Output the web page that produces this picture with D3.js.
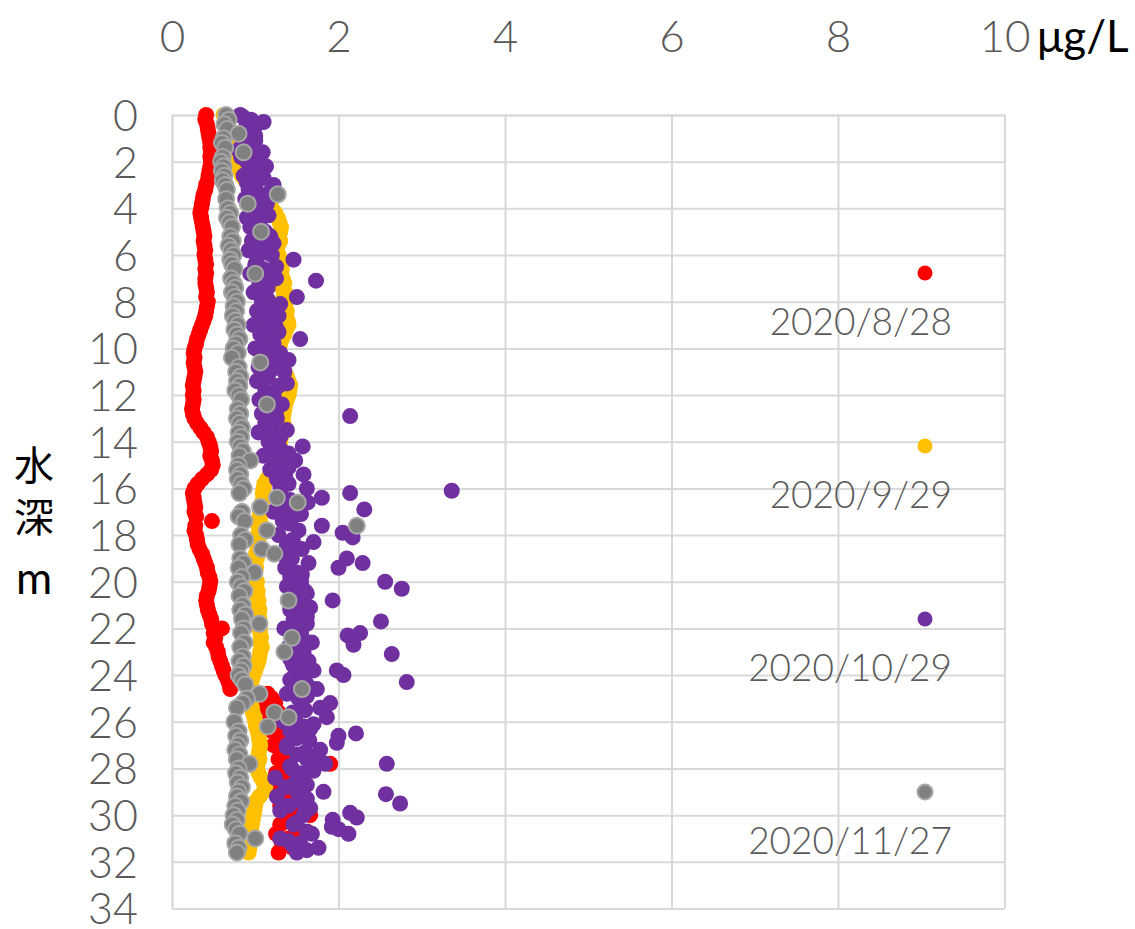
<!DOCTYPE html>
<html><head><meta charset="utf-8">
<script src="https://cdn.jsdelivr.net/npm/d3@7"></script>
<style>
html,body{margin:0;padding:0;background:#fff;}
svg{display:block;}
</style></head>
<body>
<svg id="chart" width="1135" height="929"></svg>
<script>
// ---- data ----
const seriesNames = ["2020/8/28","2020/9/29","2020/10/29","2020/11/27"];
const xTicks = [0,2,4,6,8,10];
const yTicks = [0,2,4,6,8,10,12,14,16,18,20,22,24,26,28,30,32,34];
const xUnit = "μg/L";
const yLabel = ["水","深","m"];

const depths = [
0,0.2,0.4,0.6,0.8,1,1.2,1.4,1.6,1.8,
2,2.2,2.4,2.6,2.8,3,3.2,3.4,3.6,3.8,
4,4.2,4.4,4.6,4.8,5,5.2,5.4,5.6,5.8,
6,6.2,6.4,6.6,6.8,7,7.2,7.4,7.6,7.8,
8,8.2,8.4,8.6,8.8,9,9.2,9.4,9.6,9.8,
10,10.2,10.4,10.6,10.8,11,11.2,11.4,11.6,11.8,
12,12.2,12.4,12.6,12.8,13,13.2,13.4,13.6,13.8,
14,14.2,14.4,14.6,14.8,15,15.2,15.4,15.6,15.8,
16,16.2,16.4,16.6,16.8,17,17.2,17.4,17.6,17.8,
18,18.2,18.4,18.6,18.8,19,19.2,19.4,19.6,19.8,
20,20.2,20.4,20.6,20.8,21,21.2,21.4,21.6,21.8,
22,22.2,22.4,22.6,22.8,23,23.2,23.4,23.6,23.8,
24,24.2,24.4,24.6,24.8,25,25.2,25.4,25.6,25.8,
26,26.2,26.4,26.6,26.8,27,27.2,27.4,27.6,27.8,
28,28.2,28.4,28.6,28.8,29,29.2,29.4,29.6,29.8,
30,30.2,30.4,30.6,30.8,31,31.2,31.4,31.6];

const red = [
0.41,0.40,0.42,0.43,0.44,0.45,0.46,0.46,0.47,0.46,
0.47,0.46,0.45,0.44,0.43,0.41,0.40,0.38,0.37,0.36,
0.35,0.34,0.35,0.36,0.37,0.38,0.39,0.38,0.39,0.40,
0.39,0.40,0.41,0.40,0.41,0.40,0.40,0.41,0.42,0.41,
0.43,0.42,0.41,0.40,0.38,0.36,0.34,0.32,0.30,0.29,
0.27,0.26,0.27,0.26,0.27,0.28,0.27,0.26,0.25,0.26,
0.25,0.26,0.25,0.24,0.25,0.27,0.30,0.34,0.38,0.42,
0.44,0.46,0.47,0.46,0.48,0.49,0.47,0.42,0.36,0.31,
0.27,0.25,0.26,0.27,0.28,0.27,0.29,0.48,0.28,0.27,
0.29,0.30,0.31,0.33,0.36,0.38,0.40,0.42,0.43,0.45,
0.46,0.45,0.44,0.42,0.41,0.42,0.43,0.45,0.47,0.48,
0.60,0.50,0.52,0.50,0.53,0.55,0.56,0.58,0.60,0.62,
0.64,0.67,0.69,0.70,1.15,1.20,1.24,1.12,1.28,1.18,
1.25,1.32,1.20,1.28,1.35,1.22,1.30,1.40,1.28,1.90,
1.32,1.25,1.45,1.30,1.38,1.28,1.42,1.35,1.30,1.45,
1.66,1.38,1.30,1.50,1.25,1.40,1.32,1.45,1.28];

const yellow = [
0.62,0.65,0.67,0.68,0.70,0.71,0.72,0.73,0.74,0.76,
0.78,0.80,0.82,0.84,0.88,0.93,0.98,1.04,1.10,1.15,
1.20,1.24,1.27,1.29,1.31,1.30,1.28,1.30,1.27,1.25,
1.28,1.30,1.27,1.32,1.30,1.33,1.35,1.32,1.36,1.34,
1.37,1.35,1.38,1.36,1.39,1.40,1.37,1.35,1.32,1.30,
1.28,1.25,1.27,1.30,1.33,1.35,1.38,1.40,1.42,1.41,
1.40,1.38,1.36,1.35,1.34,1.33,1.34,1.32,1.33,1.31,
1.30,1.28,1.27,1.26,1.25,1.24,1.22,1.18,1.14,1.11,
1.10,1.09,1.10,1.08,1.07,1.06,1.05,1.06,1.04,1.05,
1.03,1.04,1.02,1.03,1.01,1.02,1.00,1.01,0.99,1.00,
1.02,1.01,1.03,1.02,1.04,1.03,1.05,1.04,1.05,1.06,
1.05,1.06,1.07,1.06,1.08,1.06,1.05,1.04,1.02,1.00,
0.98,0.96,0.95,0.94,0.93,0.94,0.95,0.96,0.97,0.99,
1.00,1.01,1.03,1.04,1.05,1.06,1.05,1.04,1.05,1.03,
1.02,1.04,1.07,1.10,1.12,1.10,1.05,1.01,1.00,0.99,
0.98,0.97,0.96,0.95,0.94,0.95,0.94,0.93,0.92];

const purple = [
0.82,0.95,1.02,0.88,0.78,0.92,0.85,0.97,1.09,0.83,
0.90,1.13,0.95,0.86,1.02,1.22,0.92,1.05,0.88,1.14,
0.98,1.08,0.90,1.02,0.94,1.12,1.18,0.96,1.06,0.92,
1.20,1.46,1.00,1.10,0.94,1.25,1.05,1.15,0.98,1.50,
1.08,1.20,1.02,1.28,1.12,0.98,1.18,1.06,1.54,1.22,
1.00,1.30,1.10,1.25,1.04,1.35,1.15,1.02,1.28,1.12,
1.22,1.05,1.32,1.16,1.08,1.26,1.12,1.20,1.04,1.30,
1.16,1.57,1.24,1.10,1.48,1.32,1.18,1.58,1.26,1.40,
1.62,1.30,1.80,1.63,1.36,1.22,1.46,1.33,1.80,1.52,
1.28,1.45,1.38,1.56,1.30,1.44,1.64,1.36,1.50,1.42,
1.55,1.38,1.60,1.48,1.93,1.52,1.42,1.58,1.46,1.62,
1.35,1.55,1.44,1.68,1.40,1.58,1.50,1.64,1.46,1.70,
1.55,1.42,1.62,1.74,1.38,1.52,1.90,1.78,1.45,1.86,
1.34,1.58,1.42,2.00,1.65,1.38,1.78,1.50,1.62,1.84,
1.44,1.55,1.24,1.48,1.36,1.82,1.26,1.52,1.40,1.30,
1.58,1.93,1.46,2.00,1.68,1.30,1.54,1.76,1.50];

const purpleExtraDepths = [0.1,0.3,1.1,1.5,2.5,2.9,3.3,4.3,5.5,6.5,7.1,8.1,9.3,9.7,10.5,11.5,12.9,13.5,14.5,15.1,
16.1,16.2,16.9,17.9,18.1,18.3,19.0,19.2,19.4,20.0,20.3,20.5,21.1,21.7,22.2,22.3,22.7,22.9,23.1,23.5,
23.8,24.0,24.3,25.5,26.1,26.5,26.9,27.3,27.8,28.1,28.7,29.1,29.5,29.7,29.9,30.1,30.5,30.8,31.1];
const purpleExtraValues = [0.86,1.10,1.00,0.80,1.05,0.90,1.18,1.16,1.22,1.25,1.73,1.30,1.28,1.15,1.40,1.38,2.14,1.38,1.40,1.40,
3.36,2.14,2.31,2.05,2.17,1.70,2.10,2.29,2.00,2.56,2.76,1.62,1.66,2.51,2.26,2.11,2.18,1.55,2.64,1.45,
1.98,2.06,2.82,1.60,1.70,2.21,1.98,1.60,2.58,1.70,1.62,2.57,2.74,1.66,2.14,2.22,1.92,2.12,1.40];

const purpleMoreDepths = [0.5,0.9,1.3,1.9,2.3,2.7,3.1,3.5,3.9,4.5,4.9,5.3,5.9,6.1,6.9,7.5,7.9,8.5,8.9,9.1,
9.9,10.3,10.9,11.3,11.9,12.3,12.7,13.1,13.9,14.3,14.9,15.5,15.9,16.5,17.1,17.5,18.5,18.9,19.7,20.1,
20.9,21.5,21.9,22.5,23.3,23.9,24.5,24.9,25.3,25.9,26.3,26.7,27.1,27.5,27.9,28.3,28.9,29.3,30.3,30.7,31.3,31.5];
const purpleMoreValues = [0.90,1.00,0.92,1.00,0.98,1.10,1.00,0.95,1.02,1.06,1.00,0.98,1.10,1.02,1.12,1.02,1.15,1.12,1.05,1.25,
1.08,1.18,1.20,1.08,1.22,1.14,1.25,1.18,1.22,1.30,1.22,1.36,1.30,1.42,1.55,1.40,1.48,1.38,1.56,1.44,
1.50,1.62,1.50,1.58,1.42,1.56,1.48,1.62,1.56,1.48,1.66,1.50,1.38,1.70,1.42,1.58,1.48,1.62,1.50,1.62,1.45,1.62];

const gray = [
0.65,0.68,0.63,0.66,0.80,0.62,0.60,0.64,0.86,0.61,
0.59,0.62,0.60,0.63,0.61,0.64,0.66,1.27,0.65,0.91,
0.67,0.70,0.66,0.69,0.72,1.07,0.70,0.73,0.68,0.71,
0.74,0.70,0.72,0.75,1.00,0.71,0.74,0.76,0.72,0.75,
0.78,0.74,0.77,0.73,0.76,0.79,0.75,0.78,0.81,0.77,
0.74,0.79,0.72,1.06,0.80,0.77,0.82,0.78,0.81,0.76,
0.80,0.83,1.14,0.79,0.82,0.78,0.81,0.84,0.80,0.83,
0.79,0.82,0.85,0.81,0.94,0.80,0.78,0.82,0.79,0.83,
0.86,0.81,1.26,1.51,1.06,0.84,0.80,0.87,2.22,1.14,
0.83,0.88,0.81,1.08,1.23,0.82,0.86,0.80,0.99,0.84,
0.79,0.83,0.87,0.81,1.40,0.85,0.82,0.88,0.84,1.05,
0.86,0.83,1.44,0.87,0.82,1.35,0.85,0.81,0.86,0.83,
0.80,0.84,0.88,1.56,1.05,0.90,0.85,0.78,1.23,1.40,
0.75,1.15,0.80,0.77,0.82,0.79,0.76,0.81,0.78,0.93,
0.80,0.77,0.82,0.79,0.84,0.80,0.78,0.83,0.76,0.79,
0.74,0.78,0.73,0.77,0.81,1.00,0.76,0.80,0.78];

// ---- chart ----
const W = 1135, H = 929;
const plot = {left:172, right:1004.5, top:115, bottom:908.5};
const svg = d3.select("#chart");
svg.append("rect").attr("width",W).attr("height",H).attr("fill","#fff");

const x = d3.scaleLinear().domain([0,10]).range([plot.left, plot.right]);
const y = d3.scaleLinear().domain([0,34]).range([plot.top, plot.bottom]);

const FONT = "Lato, 'Open Sans', 'DejaVu Sans', sans-serif";
const gridColor = "#d9d9d9";

// x axis (top) with vertical gridlines
const gx = svg.append("g").attr("transform",`translate(0,${plot.top})`)
  .call(d3.axisTop(x).tickValues(xTicks).tickFormat(d3.format("d"))
        .tickSizeInner(-(plot.bottom-plot.top)).tickSizeOuter(0).tickPadding(63));
gx.select(".domain").attr("stroke",gridColor).attr("stroke-width",2);
gx.selectAll(".tick line").attr("stroke",gridColor).attr("stroke-width",2);
gx.selectAll(".tick text").attr("fill","#595959").attr("font-size",44)
  .attr("font-family",FONT).attr("font-weight",300);

// y axis (left) with horizontal gridlines
const gy = svg.append("g").attr("transform",`translate(${plot.left},0)`)
  .call(d3.axisLeft(y).tickValues(yTicks).tickFormat(d3.format("d"))
        .tickSizeInner(-(plot.right-plot.left)).tickSizeOuter(0).tickPadding(34));
gy.select(".domain").attr("stroke",gridColor).attr("stroke-width",2);
gy.selectAll(".tick line").attr("stroke",gridColor).attr("stroke-width",2);
gy.selectAll(".tick text").attr("fill","#595959").attr("font-size",43)
  .attr("font-family",FONT).attr("font-weight",300).attr("dy","0.36em");

// unit label
svg.append("text").attr("x",1037).attr("y",52).text(xUnit)
  .attr("font-size",44).attr("font-family",FONT).attr("fill","#000");

// y label (vertical stacked)
svg.selectAll(".ylab").data(yLabel).join("text").attr("class","ylab")
  .attr("x",34).attr("y",(d,i)=>[480,532,594][i]).attr("text-anchor","middle")
  .attr("font-size",(d,i)=> i<2 ? 40 : 44)
  .attr("font-family",(d,i)=> i<2 ? "'Noto Sans CJK JP', sans-serif" : FONT)
  .attr("fill","#000").text(d=>d);

// series
const R = 8;
const series = [
  {name:seriesNames[0], color:"#ff0000", stroke:"none", pts: depths.map((d,i)=>[red[i],d])},
  {name:seriesNames[1], color:"#ffc000", stroke:"none", pts: depths.map((d,i)=>[yellow[i],d])},
  {name:seriesNames[2], color:"#7030a0", stroke:"none",
     pts: depths.map((d,i)=>[purple[i],d])
       .concat(purpleMoreDepths.map((d,i)=>[purpleMoreValues[i],d]))
       .concat(purpleExtraDepths.map((d,i)=>[purpleExtraValues[i],d]))},
  {name:seriesNames[3], color:"#808080", stroke:"#a6a6a6", pts: depths.map((d,i)=>[gray[i],d])}
];

series.forEach(s=>{
  svg.append("g").selectAll("circle").data(s.pts).join("circle")
    .attr("cx",d=>x(d[0])).attr("cy",d=>y(d[1])).attr("r",R)
    .attr("fill",s.color)
    .attr("stroke",s.stroke).attr("stroke-width",s.stroke==="none"?0:2);
});

// legend
const lg = svg.append("g");
series.forEach((s,i)=>{
  const cy = 273 + i*173;
  lg.append("circle").attr("cx",925).attr("cy",cy).attr("r",7.5)
    .attr("fill",s.color).attr("stroke",s.stroke).attr("stroke-width",s.stroke==="none"?0:2);
  lg.append("text").attr("x",952).attr("y",cy+62).attr("text-anchor","end")
    .attr("font-size",37).attr("font-family",FONT).attr("font-weight",300)
    .attr("fill","#595959").text(s.name);
});
</script>
</body></html>
